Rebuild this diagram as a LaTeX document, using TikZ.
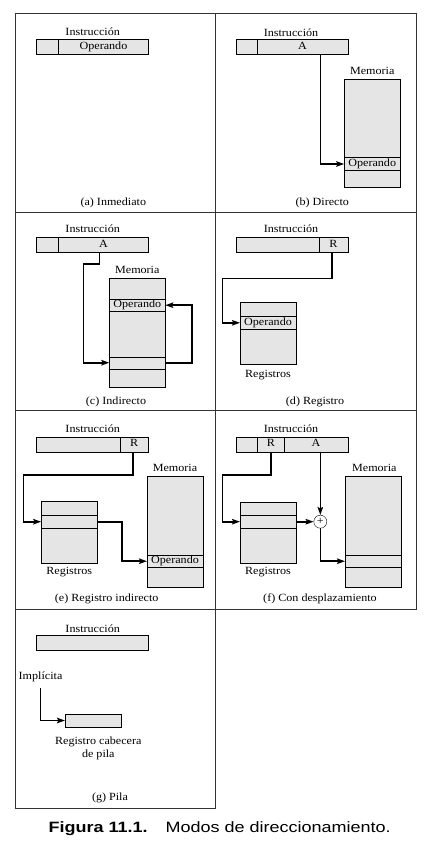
\documentclass[tikz,border=0pt]{standalone}
\usepackage{fontspec}
\setmainfont{Liberation Serif}[FakeStretch=1.1]
\setsansfont{Liberation Sans}[FakeStretch=1.2]
\usetikzlibrary{positioning,arrows.meta}

\begin{document}
\begin{tikzpicture}[x=1pt,y=-1pt,
    every node/.style={font=\fontsize{11}{13}\selectfont},
    fld/.style={draw, fill=gray!20, minimum height=15pt, inner sep=0pt, outer sep=0pt,
      text height=7.5pt, text depth=2.5pt},
    cell/.style={draw, fill=gray!20, minimum width=56pt, inner sep=0pt, outer sep=0pt,
      text height=7.5pt, text depth=2.5pt},
    arr/.style={line width=1.6pt, -{Stealth[length=8pt,width=5.5pt,inset=1.5pt]}},
    frame/.style={line width=0.8pt, draw=black!80}
  ]
    \useasboundingbox (0,0) rectangle (428,866);
    \draw[frame] (15.5,13.5) rectangle (416,609);
    \draw[frame] (215.5,13.5) -- (215.5,609);
    \draw[frame] (15.5,212) -- (416,212);
    \draw[frame] (15.5,410.5) -- (416,410.5);
    \draw[frame] (15.5,609) rectangle (215.5,808);

    % (a)
    \node (insta) at (92.7,31.7) {Instrucción};
    \node[fld, minimum width=22.7pt] (a1) at (47.3,46.8) {};
    \node[fld, minimum width=89.6pt, right=0pt of a1] (a2) {Operando};
    \node (capa) at (113.3,202.7) {(a) Inmediato};

    % (b)
    \node (instb) at (291,32.7) {Instrucción};
    \node[fld, minimum width=21.6pt] (b1) at (246.5,46.8) {};
    \node[fld, minimum width=90.4pt, right=0pt of b1] (b2) {A};
    \node (memlb) at (372.2,71) {Memoria};
    \node[cell, minimum height=108.3pt] (memb) at (372.2,133.2) {};
    \node[cell, minimum height=13.4pt] (opb) at (372.2,164) {Operando};
    \coordinate (pb) at (320.3,0);
    \draw[arr] (b2.south -| pb) |- (opb.west);
    \node (capb) at (322.3,202.7) {(b) Directo};

    % (c)
    \node (instc) at (92.7,229) {Instrucción};
    \node[fld, minimum width=22.7pt] (c1) at (47.3,244.8) {};
    \node[fld, minimum width=89.6pt, right=0pt of c1] (c2) {A};
    \node (memlc) at (137.3,270) {Memoria};
    \node[cell, minimum height=108.4pt] (memc) at (137.3,332.5) {};
    \node[cell, minimum height=12pt] (opc) at (137.3,305.2) {Operando};
    \node[cell, minimum height=12pt] (ptrc) at (137.3,362.7) {};
    \coordinate (cl) at (83.3,264);
    \coordinate (cr) at (191.7,0);
    \draw[arr] ([xshift=-4pt]c2.south) |- (cl) |- (ptrc.west);
    \draw[arr] (ptrc.east) -| (cr |- opc.east) -- (opc.east);
    \node (capc) at (116,401.5) {(c) Indirecto};

    % (d)
    \node (instd) at (291,229) {Instrucción};
    \node[fld, minimum width=83.6pt] (d1) at (277.5,244.8) {};
    \node[fld, minimum width=28.4pt, right=0pt of d1] (d2) {R};
    \node[cell, minimum height=61.3pt] (regd) at (268,333.3) {};
    \node[cell, minimum height=12.3pt] (opd) at (268,322.8) {Operando};
    \node (regld) at (268,375) {Registros};
    \coordinate (dl) at (222.3,278.3);
    \draw[arr] ([xshift=-1.5pt]d2.south) |- (dl) |- (opd.west);
    \node (capd) at (315,401.5) {(d) Registro};

    % (e)
    \node (inste) at (92.7,429) {Instrucción};
    \node[fld, minimum width=84pt] (e1) at (78,444.2) {};
    \node[fld, minimum width=28.3pt, right=0pt of e1] (e2) {R};
    \node[cell, minimum height=62.3pt] (rege) at (69.2,532.2) {};
    \node[cell, minimum height=13.3pt] (pte) at (69.2,521.7) {};
    \node (regle) at (69.2,571.7) {Registros};
    \node (memle) at (175,467.7) {Memoria};
    \node[cell, minimum height=110.7pt] (meme) at (175,531.4) {};
    \node[cell, minimum height=12.3pt] (ope) at (175,561.2) {Operando};
    \coordinate (el) at (23.3,475);
    \coordinate (em) at (121.7,0);
    \draw[arr] ([xshift=-1pt]e2.south) |- (el) |- (pte.west);
    \draw[arr] (pte.east) -| (em |- ope.west) -- (ope.west);
    \node (cape) at (106.7,599) {(e) Registro indirecto};

    % (f)
    \node (instf) at (291,429) {Instrucción};
    \node[fld, minimum width=21.6pt] (f1) at (246.5,444.2) {};
    \node[fld, minimum width=27pt, right=0pt of f1] (f2) {R};
    \node[fld, minimum width=63.4pt, right=0pt of f2] (f3) {A};
    \node[cell, minimum height=61.6pt] (regf) at (268,532.5) {};
    \node[cell, minimum height=13.3pt] (ptf) at (268,521.7) {};
    \node (reglf) at (268,571.7) {Registros};
    \node[draw, circle, fill=white, minimum size=13pt, inner sep=0pt,
      font=\fontsize{11}{11}\selectfont] (sum) at (320.3,521.7) {+};
    \node (memlf) at (374.3,467.7) {Memoria};
    \node[cell, minimum height=110.7pt] (memf) at (373,531.4) {};
    \node[cell, minimum height=12.3pt] (tgf) at (373,561.2) {};
    \coordinate (fl) at (222.3,475);
    \draw[arr] (f2.south) |- (fl) |- (ptf.west);
    \draw[arr] (ptf.east) -- (sum.west);
    \draw[arr] (f3.south -| sum) -- (sum.north);
    \draw[arr] (sum.south) |- (tgf.west);
    \node (capf) at (320,599) {(f) Con desplazamiento};

    % (g)
    \node (instg) at (92.7,628.3) {Instrucción};
    \node[fld, minimum width=112.3pt] (g1) at (92.2,642.9) {};
    \node[anchor=west, inner sep=0pt] (impl) at (18.5,676.7) {Implícita};
    \node[cell, minimum height=12.4pt, minimum width=56.7pt] (stk) at (93.3,720.5) {};
    \node[align=center] (stklb) at (98.3,748.3) {Registro cabecera\\de pila};
    \draw[arr] ([yshift=-6pt]impl.south) |- (stk.west);
    \node (capg) at (110,797.7) {(g) Pila};

    \node[font=\sffamily\fontsize{15}{17}\selectfont] (fig) at (219.7,829)
      {\textbf{Figura 11.1.}\hspace{18pt}Modos de direccionamiento.};
\end{tikzpicture}
\end{document}
